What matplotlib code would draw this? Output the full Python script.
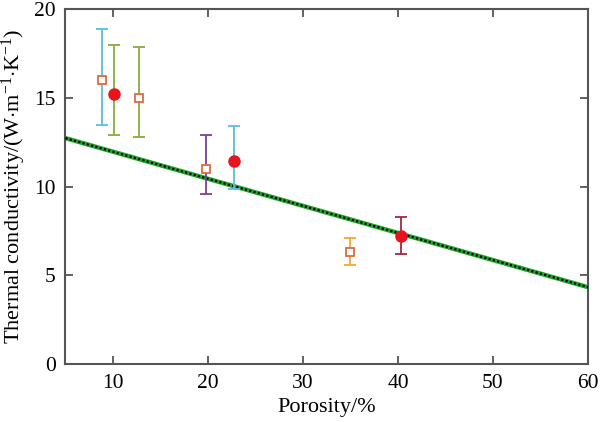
import numpy as np
import matplotlib.pyplot as plt

plt.rcParams['font.family'] = ['Liberation Serif', 'DejaVu Serif']
plt.rcParams['mathtext.fontset'] = 'custom'
plt.rcParams['mathtext.rm'] = 'Liberation Serif'
plt.rcParams['mathtext.it'] = 'Liberation Serif:italic'

# measured points (porosity %, conductivity, error low, error high)
porosity = [8.8, 10.1, 12.7, 19.8, 22.7, 35.0, 40.3]
conduct = [16.0, 15.25, 15.0, 11.0, 11.45, 6.3, 7.2]
err_low = [13.5, 12.9, 12.8, 9.6, 9.9, 5.6, 6.2]
err_high = [18.9, 18.0, 17.9, 12.9, 13.4, 7.1, 8.3]
markers = ['s', 'o', 's', 's', 'o', 's', 'o']
err_colors = ['#5bbde0', '#8aaa3c', '#8aaa3c', '#7d3f96', '#5bbde0', '#f2a830', '#a3283f']

# fitted line
fit_x = [5, 60]
fit_y = [12.74, 4.34]

fig = plt.figure(figsize=(6, 4.22), dpi=100)
ax = fig.add_axes([0.109, 0.137, 0.871, 0.841])

ax.plot(fit_x, fit_y, color='#1fa82a', lw=3.2, solid_capstyle='butt', zorder=2)
ax.plot(fit_x, fit_y, color='black', lw=1.6, ls=(0, (1, 1)), zorder=3)

for i in range(len(porosity)):
    yerr = [[conduct[i] - err_low[i]], [err_high[i] - conduct[i]]]
    ax.errorbar(porosity[i], conduct[i], yerr=yerr, fmt='none',
                ecolor=err_colors[i], elinewidth=1.3, capsize=4, capthick=1.3, zorder=4)
    if markers[i] == 's':
        ax.plot(porosity[i], conduct[i], 's', ms=6, mfc='white', mec='#e06a3c', mew=1.3, zorder=5)
    else:
        ax.plot(porosity[i], conduct[i], 'o', ms=8, mfc='#e8141c', mec='#e8141c', zorder=5)

ax.set_xlim(5, 60)
ax.set_ylim(0, 20)
ax.set_xticks([10, 20, 30, 40, 50, 60])
ax.set_yticks([0, 5, 10, 15, 20])
ax.tick_params(direction='in', top=True, right=True, length=6, width=1.3,
               color='#555555', labelsize=15.5, pad=7)
for s in ax.spines.values():
    s.set_color('#555555')
    s.set_linewidth(1.5)

ax.set_xlabel('Porosity/%', fontsize=16, labelpad=4)
ax.set_ylabel(r'Thermal conductivity/(W$\cdot$m$^{-1}$$\cdot$K$^{-1}$)', fontsize=16, labelpad=4)

fig.savefig('out.png', dpi=100)
